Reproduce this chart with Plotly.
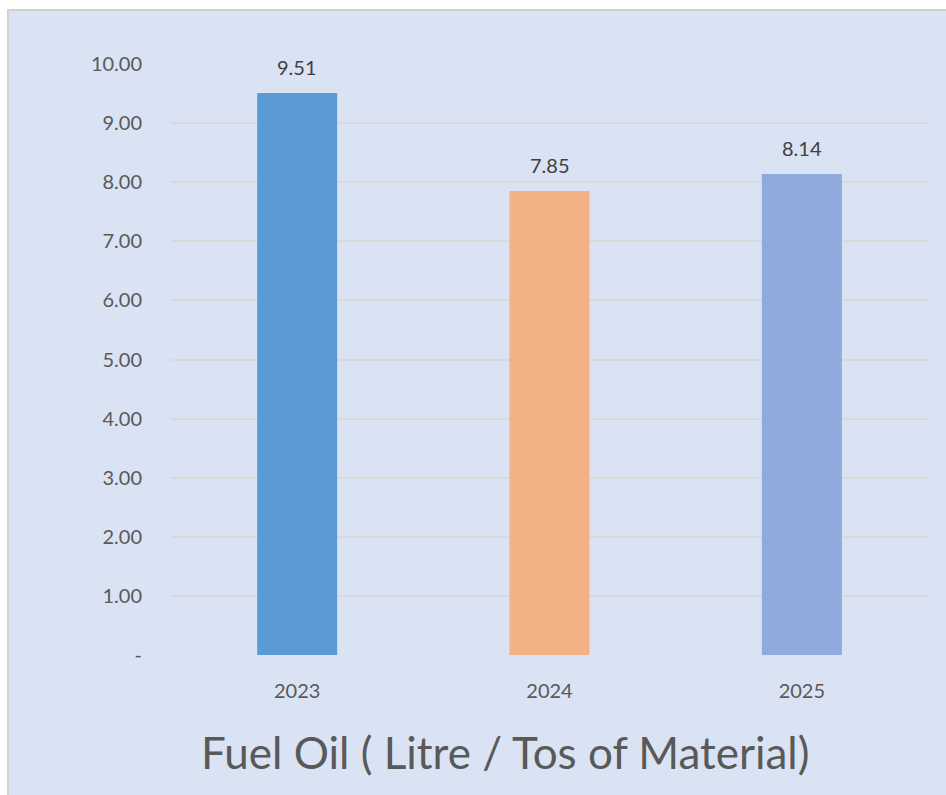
import plotly.graph_objects as go

# Fuel oil consumption per tonne of material, by year
years = ["2023", "2024", "2025"]
fuel_oil = [9.51, 7.85, 8.14]
bar_colors = ["#5B9BD5", "#F4B183", "#8FAADC"]

y_tick_vals = [0, 1, 2, 3, 4, 5, 6, 7, 8, 9, 10]
y_tick_text = ["-", "1.00", "2.00", "3.00", "4.00", "5.00", "6.00", "7.00", "8.00", "9.00", "10.00"]

chart_title = "Fuel Oil ( Litre / Tos of Material)"

W, H = 946, 795
L, R, T, B = 171, 18, 64, 140
pw, ph = W - L - R, H - T - B


def px_x(p):
    return (p - L) / pw


def px_y(p):
    return (H - B - p) / ph


FONT = "Lato"
TEXT = "#595959"

fig = go.Figure()
fig.add_trace(go.Bar(
    x=years,
    y=fuel_oil,
    marker=dict(color=bar_colors, line=dict(width=0)),
    width=0.317,
    hoverinfo="x+y",
))

# value labels above each bar (category axis positions are serial indices)
annotations = [
    dict(x=i, y=v, xref="x", yref="y", text=f"{v:.2f}", showarrow=False,
         yanchor="bottom", yshift=12, font=dict(family=FONT, size=20, color="#404040"))
    for i, v in enumerate(fuel_oil)
]
annotations.append(dict(
    x=px_x(505), y=px_y(752), xref="paper", yref="paper", text=chart_title,
    showarrow=False, xanchor="center", yanchor="middle",
    font=dict(family=FONT, size=44, color=TEXT),
))

shapes = [
    # chart panel
    dict(type="rect", xref="paper", yref="paper", layer="below",
         x0=px_x(8), x1=px_x(960), y0=px_y(10), y1=px_y(810),
         fillcolor="#DAE3F3", line=dict(color="#D0D0D0", width=2)),
]

fig.update_layout(
    width=W, height=H,
    margin=dict(l=L, r=R, t=T, b=B),
    paper_bgcolor="white",
    plot_bgcolor="rgba(0,0,0,0)",
    showlegend=False,
    shapes=shapes,
    annotations=annotations,
    font=dict(family=FONT, color=TEXT),
    xaxis=dict(
        type="category",
        range=[-0.5, 2.5],
        showgrid=False, zeroline=False, showline=False, ticks="",
        tickfont=dict(family=FONT, size=20, color=TEXT),
        ticklabelstandoff=22,
    ),
    yaxis=dict(
        range=[0, 10],
        tickvals=y_tick_vals, ticktext=y_tick_text,
        showgrid=True, gridcolor="#D9D9D9", gridwidth=1.5,
        zeroline=False, showline=False, ticks="",
        tickfont=dict(family=FONT, size=20, color=TEXT),
        ticklabelstandoff=28,
    ),
)

fig.write_html("out.html")
